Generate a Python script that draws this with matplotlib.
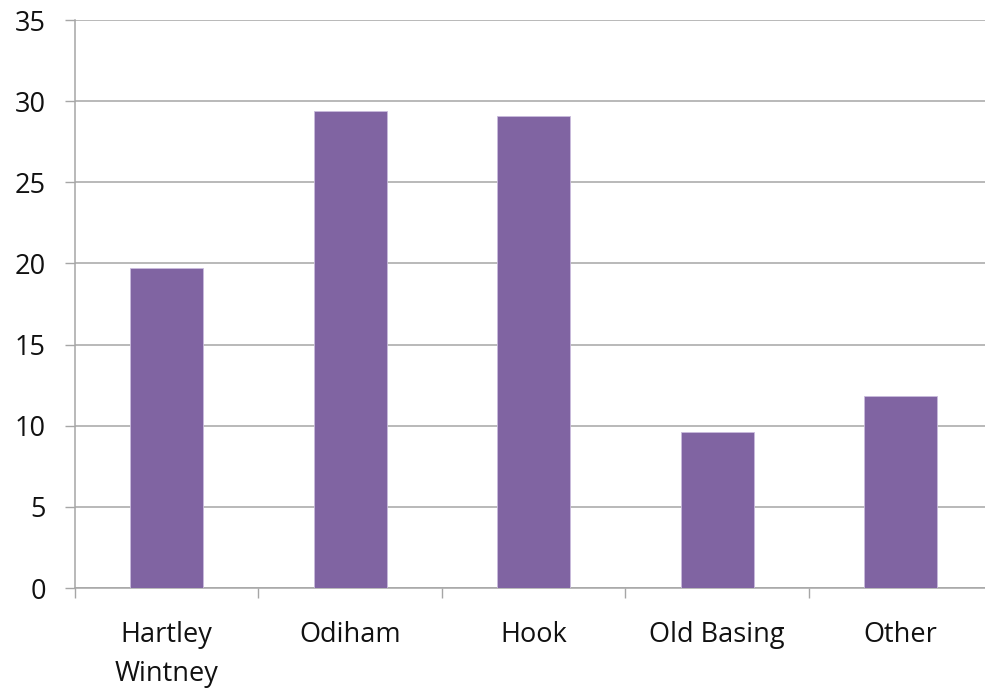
import matplotlib.pyplot as plt
import numpy as np

categories = ["Hartley\nWintney", "Odiham", "Hook", "Old Basing", "Other"]
values = [19.7, 29.4, 29.1, 9.6, 11.85]
y_ticks = [0, 5, 10, 15, 20, 25, 30, 35]

BAR_COLOR = "#8064A2"
GRID_COLOR = "#a6a6a6"

plt.rcParams["font.family"] = ["Open Sans", "DejaVu Sans"]

fig = plt.figure(figsize=(9.85, 6.9), dpi=100)
# plot area runs past the right edge of the canvas
ax = fig.add_axes([0.0761, 0.1478, 0.9315, 0.8232])

x = np.arange(len(categories))
ax.bar(x, values, width=0.4, color=BAR_COLOR, edgecolor="#c9bbdc",
       linewidth=0.6, zorder=3)

ax.set_xlim(-0.5, len(categories) - 0.5)
ax.set_ylim(0, 35)
ax.set_yticks(y_ticks)
ax.yaxis.grid(True, color=GRID_COLOR, linewidth=1.1, zorder=0)
ax.set_axisbelow(True)

ax.set_xticks(x)
ax.set_xticklabels(categories, linespacing=1.5)
ax.set_xticks(np.arange(len(categories) + 1) - 0.5, minor=True)
ax.tick_params(axis="x", which="major", length=0, pad=24, labelsize=19.5,
               labelcolor="#111111")
ax.tick_params(axis="x", which="minor", length=7, width=1, color=GRID_COLOR,
               direction="out")
ax.tick_params(axis="y", length=7, width=1, color=GRID_COLOR, pad=14,
               labelsize=19.5, labelcolor="#111111")

for side in ["top", "right"]:
    ax.spines[side].set_visible(False)
for side in ["left", "bottom"]:
    ax.spines[side].set_color(GRID_COLOR)
    ax.spines[side].set_linewidth(1.1)

fig.savefig("out.png", dpi=100)
